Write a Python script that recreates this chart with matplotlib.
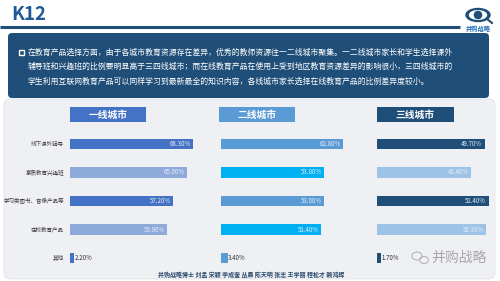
import matplotlib
matplotlib.use("Agg")
import matplotlib.pyplot as plt
from matplotlib.patches import FancyBboxPatch, Rectangle, Ellipse, Circle

plt.rcParams["font.family"] = ["Noto Sans CJK SC", "DejaVu Sans"]

# data
categories = ["线下课外辅导", "素质教育兴趣班", "学习类图书、音像产品等", "在校教育产品", "其他"]
tier_names = ["一线城市", "二线城市", "三线城市"]
tier1 = [68.3, 65.0, 57.2, 53.9, 2.2]
tier2 = [62.8, 53.0, 53.0, 51.4, 3.4]
tier3 = [49.7, 43.4, 51.4, 50.3, 1.7]

summary = [
    "在教育产品选择方面，由于各城市教育资源存在差异，优秀的教师资源往一二线城市聚集。一二线城市家长和学生选择课外",
    "辅导班和兴趣班的比例要明显高于三四线城市；而在线教育产品在使用上受到地区教育资源差异的影响很小，三四线城市的",
    "学生利用互联网教育产品可以同样学习到最新最全的知识内容，各线城市家长选择在线教育产品的比例差异度较小。",
]
footer = "并购战略博士 刘孟 宋颖 李成奎 丛晨 陈天明 张志 王学丽 程松才 赖鸿辉"

W, H = 500, 281
fig = plt.figure(figsize=(W / 100, H / 100), dpi=100)
fig.patch.set_facecolor("white")

# background layer in pixel coordinates
bg = fig.add_axes([0, 0, 1, 1])
bg.set_xlim(0, W)
bg.set_ylim(H, 0)
bg.axis("off")

bg.text(11.5, 14, "K12", fontsize=13.5, fontweight="bold", color="#1f5a96",
        va="center", ha="left")
bg.plot([0, 460], [27, 27], color="#1f4e79", lw=2.2, solid_capstyle="butt")

# logo
bg.add_patch(Ellipse((478, 15), 24, 13, color="#1f4e79"))
bg.add_patch(Ellipse((478, 15), 17, 8.5, color="white"))
bg.add_patch(Circle((478, 15), 3.6, color="#1f4e79"))
bg.plot([487, 492], [19, 23], color="#1f4e79", lw=1.5)
bg.text(478, 28, "并购战略", fontsize=4.5, fontweight="bold", color="#1f6fb5",
        ha="center", va="center")

# summary box
bg.add_patch(FancyBboxPatch((8, 33), 481, 65, boxstyle="round,pad=0,rounding_size=4",
                            fc="#1f4e79", ec="none"))
bg.add_patch(Rectangle((18.5, 49.5), 5, 5, fc="none", ec="white", lw=1))
for i, line in enumerate(summary):
    bg.text(28, 52.5 + i * 14.5, line, fontsize=5.65, color="white", ha="left", va="center")

# chart panel
bg.add_patch(FancyBboxPatch((4, 99), 491, 180, boxstyle="round,pad=0,rounding_size=6",
                            fc="#eff0f4", ec="#e2e3e8", lw=0.6))

bg.text(251, 274.5, footer, fontsize=4.3, fontweight="bold", color="#2b4a6b",
        ha="center", va="center")

# watermark
bg.add_patch(Ellipse((417, 256), 10, 8, fc="none", ec="#b5b5b5", lw=0.8))
bg.add_patch(Ellipse((424, 260), 9, 7, fc="none", ec="#b5b5b5", lw=0.8))
bg.text(459, 258, "并购战略", fontsize=10, color="#a8a8a8", ha="center", va="center")

panels = [
    (tier1, 70, 130, 1.80, 69.5, "#4472c4", ["#4472c4", "#8eaadb"]),
    (tier2, 221, 130, 1.94, 218.5, "#5b9bd5", ["#5b9bd5", "#00b0f0"]),
    (tier3, 377, 118, 2.17, 377, "#1f4e79", ["#1f4e79", "#9dc3e6"]),
]

row_top, row_bot = 129.75, 272.25
for k, (vals, x0, wpx, scale, hx, hcol, cols) in enumerate(panels):
    # header
    bg.add_patch(Rectangle((hx, 107), 76.5, 15, fc=hcol, ec="none"))
    bg.text(hx + 38.25, 114.5, tier_names[k], fontsize=7, fontweight="bold",
            color="white", ha="center", va="center")

    ax = fig.add_axes([x0 / W, 1 - row_bot / H, wpx / W, (row_bot - row_top) / H])
    ax.set_xlim(0, wpx / scale)
    ax.set_ylim(len(categories) - 0.5, -0.5)
    ax.patch.set_alpha(0)
    for s in ax.spines.values():
        s.set_visible(False)
    colors = [cols[i % 2] for i in range(len(vals))]
    ax.barh(range(len(vals)), vals, height=0.36, color=colors)
    for i, v in enumerate(vals):
        if v > 10:
            ax.text(v - 1.2, i, f"{v:.2f}%", fontsize=4.4, color="#e8eef8",
                    ha="right", va="center")
        else:
            ax.text(v + 0.3, i, f"{v:.2f}%", fontsize=4.4, color="#333333",
                    ha="left", va="center")
    ax.set_xticks([])
    if k == 0:
        ax.set_yticks(range(len(categories)))
        ax.set_yticklabels(categories, fontsize=4.0, color="#404040")
        ax.tick_params(axis="y", length=0, pad=4.3)
    else:
        ax.set_yticks([])

fig.savefig("out.png", dpi=100)
